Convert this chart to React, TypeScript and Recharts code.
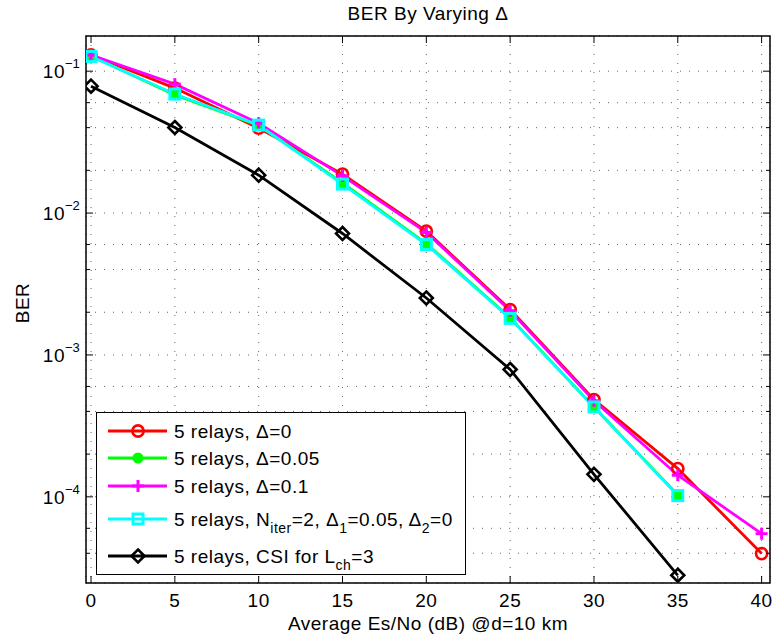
import React from "react";
import {
  LineChart,
  Line,
  XAxis,
  YAxis,
  CartesianGrid,
  ReferenceArea,
  Legend,
} from "recharts";

const FONT = '"Liberation Sans", Arial, Helvetica, sans-serif';
const FS = 19;
const LS = 0.5;

// plot box in page pixels (MATLAB axes)
const W = 776;
const H = 641;
const PLOT_LEFT = 86;
const PLOT_RIGHT = 770;
const PLOT_TOP = 36;
const PLOT_BOTTOM = 583;

// data
const snr = [0, 5, 10, 15, 20, 25, 30, 35, 40];
const berDelta0 = [0.13, 0.076, 0.0397, 0.0188, 0.00745, 0.00209, 0.000485, 0.000158, 0.0000398];
const berDelta005 = [0.128, 0.068, 0.0415, 0.0163, 0.0061, 0.00183, 0.00043, 0.000103, null];
const berDelta01 = [0.13, 0.081, 0.043, 0.0183, 0.0073, 0.00205, 0.000475, 0.000142, 0.000055];
const berIter = [0.127, 0.069, 0.0417, 0.016, 0.006, 0.00181, 0.00043, 0.000102, null];
const berCsi = [0.0784, 0.0401, 0.0185, 0.00718, 0.00252, 0.00079, 0.000144, 0.000028, null];

const xTicks = [0, 5, 10, 15, 20, 25, 30, 35, 40];
const decades = [1e-5, 1e-4, 1e-3, 1e-2, 1e-1];
const minorSteps = [1, 2, 3, 4, 5, 6, 7, 8, 9];
const decadeLabels: Record<string, string> = {
  "0.1": "\u22121",
  "0.01": "\u22122",
  "0.001": "\u22123",
  "0.0001": "\u22124",
};

const X_DOMAIN = [-0.3, 40.5];
const Y_DOMAIN = [2.47e-5, 0.177];

const yTicks = decades
  .flatMap((d) => minorSteps.map((m) => +(m * d).toPrecision(3)))
  .filter((v) => v >= Y_DOMAIN[0] && v <= Y_DOMAIN[1]);

const data = snr.map((x, i) => ({
  x,
  d0: berDelta0[i],
  d005: berDelta005[i],
  d01: berDelta01[i],
  iter: berIter[i],
  csi: berCsi[i],
}));

type MarkerKind = "circle" | "dot" | "plus" | "square" | "diamond";

function Marker({ kind, cx, cy, color }: { kind: MarkerKind; cx: number; cy: number; color: string }) {
  if (kind === "circle")
    return <circle cx={cx} cy={cy} r={5.6} fill="none" stroke={color} strokeWidth={2.6} />;
  if (kind === "dot") return <circle cx={cx} cy={cy} r={5.5} fill={color} stroke="none" />;
  if (kind === "plus")
    return (
      <g stroke={color} strokeWidth={3}>
        <line x1={cx - 6} y1={cy} x2={cx + 6} y2={cy} />
        <line x1={cx} y1={cy - 6} x2={cx} y2={cy + 6} />
      </g>
    );
  if (kind === "square")
    return (
      <rect x={cx - 5} y={cy - 5} width={10} height={10} fill="none" stroke={color} strokeWidth={3} />
    );
  return (
    <path
      d={`M${cx},${cy - 6.5} L${cx + 6.5},${cy} L${cx},${cy + 6.5} L${cx - 6.5},${cy} Z`}
      fill="none"
      stroke={color}
      strokeWidth={2.6}
    />
  );
}

const SUB = 14;

const series: Array<{ key: string; color: string; marker: MarkerKind; label: React.ReactNode }> = [
  { key: "d0", color: "#ff0000", marker: "circle", label: <>5 relays, Δ=0</> },
  { key: "d005", color: "#00ff00", marker: "dot", label: <>5 relays, Δ=0.05</> },
  { key: "d01", color: "#ff00ff", marker: "plus", label: <>5 relays, Δ=0.1</> },
  {
    key: "iter",
    color: "#00ffff",
    marker: "square",
    label: (
      <>
        5 relays, N
        <tspan fontSize={SUB} dy={7}>iter</tspan>
        <tspan dy={-7}>=2, Δ</tspan>
        <tspan fontSize={SUB} dy={7}>1</tspan>
        <tspan dy={-7}>=0.05, Δ</tspan>
        <tspan fontSize={SUB} dy={7}>2</tspan>
        <tspan dy={-7}>=0</tspan>
      </>
    ),
  },
  {
    key: "csi",
    color: "#000000",
    marker: "diamond",
    label: (
      <>
        5 relays, CSI for L
        <tspan fontSize={SUB} dy={7}>ch</tspan>
        <tspan dy={-7}>=3</tspan>
      </>
    ),
  },
];

const legendRows = [18, 45, 73, 106, 143];

function LegendBox() {
  return (
    <div
      style={{
        width: 368,
        height: 161,
        border: "1px solid #000",
        background: "#fff",
      }}
    >
      <svg width={368} height={161} style={{ display: "block" }}>
        {series.map((s, i) => {
          const y = legendRows[i];
          return (
            <g key={s.key}>
              <line x1={11} y1={y} x2={70} y2={y} stroke={s.color} strokeWidth={2.8} />
              <Marker kind={s.marker} cx={41} cy={y} color={s.color} />
              <text
                x={77}
                y={y + 7}
                fontSize={FS}
                letterSpacing={LS}
                fontFamily={FONT}
                fill="#000"
              >
                {s.label}
              </text>
            </g>
          );
        })}
      </svg>
    </div>
  );
}

const XTick = (props: any) => {
  const { x, payload } = props;
  return (
    <g>
      <line x1={x} y1={PLOT_BOTTOM} x2={x} y2={PLOT_BOTTOM - 7} stroke="#000" />
      <line x1={x} y1={PLOT_TOP} x2={x} y2={PLOT_TOP + 7} stroke="#000" />
      <text
        x={x}
        y={607}
        textAnchor="middle"
        fontSize={FS}
        letterSpacing={LS}
        fontFamily={FONT}
        fill="#000"
      >
        {payload.value}
      </text>
    </g>
  );
};

const YTick = (props: any) => {
  const { y, payload } = props;
  const v = payload.value;
  const lg = Math.log10(v);
  const major = Math.abs(lg - Math.round(lg)) < 1e-6;
  const len = major ? 7 : 4;
  const sup = decadeLabels[String(v)];
  return (
    <g>
      <line x1={PLOT_LEFT} y1={y} x2={PLOT_LEFT + len} y2={y} stroke="#000" />
      <line x1={PLOT_RIGHT - len} y1={y} x2={PLOT_RIGHT} y2={y} stroke="#000" />
      {major && sup && (
        <g fontFamily={FONT} fill="#000">
          <text x={65} y={y + 7} textAnchor="end" fontSize={FS} letterSpacing={LS}>
            10
          </text>
          <text x={65} y={y - 3} textAnchor="start" fontSize={13}>
            {sup}
          </text>
        </g>
      )}
    </g>
  );
};

export default function App() {
  return (
    <div style={{ position: "absolute", left: 0, top: 0, width: W, height: H, background: "#fff" }}>
      <LineChart
        width={W}
        height={H}
        data={data}
        margin={{ top: PLOT_TOP, right: W - PLOT_RIGHT, bottom: 18, left: 0 }}
      >
        <CartesianGrid stroke="#666" strokeDasharray="1 8" />
        <XAxis
          dataKey="x"
          type="number"
          domain={X_DOMAIN}
          ticks={xTicks}
          allowDataOverflow
          axisLine={false}
          tickLine={false}
          tick={<XTick />}
          height={40}
        />
        <YAxis
          type="number"
          scale="log"
          domain={Y_DOMAIN}
          ticks={yTicks}
          allowDataOverflow
          axisLine={false}
          tickLine={false}
          tick={<YTick />}
          width={PLOT_LEFT}
        />
        <ReferenceArea
          x1={X_DOMAIN[0]}
          x2={X_DOMAIN[1]}
          y1={Y_DOMAIN[0]}
          y2={Y_DOMAIN[1]}
          fill="none"
          fillOpacity={0}
          stroke="#000"
          strokeWidth={1.5}
        />
        {series.map((s) => (
          <Line
            key={s.key}
            dataKey={s.key}
            stroke={s.color}
            strokeWidth={2.8}
            isAnimationActive={false}
            dot={(p: any) =>
              p.cy == null || p.value == null ? (
                <g key={`${s.key}-${p.index}`} />
              ) : (
                <Marker key={`${s.key}-${p.index}`} kind={s.marker} cx={p.cx} cy={p.cy} color={s.color} />
              )
            }
            activeDot={false}
          />
        ))}
        <Legend
          layout="vertical"
          align="center"
          verticalAlign="middle"
          content={() => <LegendBox />}
          wrapperStyle={{ left: 96, top: 412, width: 370, height: 163 }}
        />
      </LineChart>
      <svg
        width={W}
        height={H}
        style={{ position: "absolute", left: 0, top: 0, pointerEvents: "none" }}
        fontFamily={FONT}
        fontSize={FS}
        letterSpacing={LS}
      >
        <text x={428} y={20} textAnchor="middle">
          BER By Varying Δ
        </text>
        <text x={428} y={630} textAnchor="middle">
          Average Es/No (dB) @d=10 km
        </text>
        <text transform="translate(29,303) rotate(-90)" textAnchor="middle">
          BER
        </text>
      </svg>
    </div>
  );
}
